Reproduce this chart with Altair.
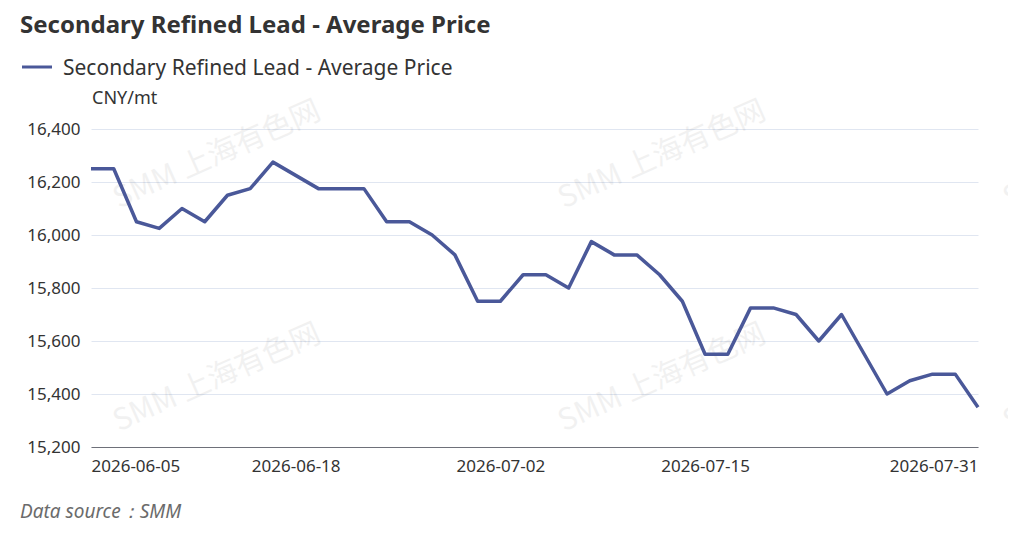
import altair as alt
import pandas as pd

dates = [
    "2026-06-05", "2026-06-08", "2026-06-09", "2026-06-10", "2026-06-11",
    "2026-06-12", "2026-06-15", "2026-06-16", "2026-06-17", "2026-06-18",
    "2026-06-22", "2026-06-23", "2026-06-24", "2026-06-25", "2026-06-26",
    "2026-06-29", "2026-06-30", "2026-07-01", "2026-07-02", "2026-07-03",
    "2026-07-06", "2026-07-07", "2026-07-08", "2026-07-09", "2026-07-10",
    "2026-07-13", "2026-07-14", "2026-07-15", "2026-07-16", "2026-07-17",
    "2026-07-20", "2026-07-21", "2026-07-22", "2026-07-23", "2026-07-24",
    "2026-07-27", "2026-07-28", "2026-07-29", "2026-07-30", "2026-07-31",
]
prices = [
    16250, 16250, 16050, 16025, 16100,
    16050, 16150, 16175, 16275, 16225,
    16175, 16175, 16175, 16050, 16050,
    16000, 15925, 15750, 15750, 15850,
    15850, 15800, 15975, 15925, 15925,
    15850, 15750, 15550, 15550, 15725,
    15725, 15700, 15600, 15700, 15550,
    15400, 15450, 15475, 15475, 15350,
]
tick_dates = ["2026-06-05", "2026-06-18", "2026-07-02", "2026-07-15", "2026-07-31"]
y_ticks = [15200, 15400, 15600, 15800, 16000, 16200, 16400]

series_name = "Secondary Refined Lead - Average Price"
title_text = "Secondary Refined Lead - Average Price"
unit_text = "CNY/mt"
source_text = "Data source：SMM"
watermark_text = "SMM 上海有色网"

LINE_COLOR = "#4a5899"
FONT = "Noto Sans"

df = pd.DataFrame({"date": dates, "price": prices})

W, H = 887, 318

base = alt.Chart(df)

line = base.mark_line(color=LINE_COLOR, strokeWidth=3.5, strokeJoin="round").encode(
    x=alt.X(
        "date:O",
        sort=None,
        scale=alt.Scale(type="point", padding=0),
        axis=alt.Axis(
            values=tick_dates,
            labelAngle=0,
            ticks=False,
            grid=False,
            domainColor="#6E7079",
            domainWidth=1,
            labelFontSize=17,
            labelColor="#333333",
            labelFont=FONT,
            labelPadding=11,
            labelAlign={
                "condition": [
                    {"test": f"datum.value == '{tick_dates[0]}'", "value": "left"},
                    {"test": f"datum.value == '{tick_dates[-1]}'", "value": "right"},
                ],
                "value": "center",
            },
            title=None,
        ),
    ),
    y=alt.Y(
        "price:Q",
        scale=alt.Scale(domain=[15200, 16400], nice=False, zero=False),
        axis=alt.Axis(
            values=y_ticks,
            format=",.0f",
            domain=False,
            ticks=False,
            gridColor="#E0E6F1",
            gridWidth=1,
            labelFontSize=17,
            labelColor="#333333",
            labelFont=FONT,
            labelPadding=11,
            title=None,
        ),
    ),
)

layers = []

# watermarks (behind the line)
wm_positions = [(126, 26), (571, 26), (1016, 26), (126, 249), (571, 249), (1016, 249)]
for (wx, wy) in wm_positions:
    layers.append(
        alt.Chart(pd.DataFrame({"t": [watermark_text]})).mark_text(
            font="Noto Sans CJK SC", fontSize=30, angle=336, align="center",
            baseline="middle", color="#000000", opacity=0.05,
        ).encode(text="t:N", x=alt.value(wx), y=alt.value(wy))
    )

layers.append(line)

# title
layers.append(
    alt.Chart(pd.DataFrame({"t": [title_text]})).mark_text(
        font=FONT, fontSize=24, fontWeight="bold", color="#333333",
        align="left", baseline="alphabetic",
    ).encode(text="t:N", x=alt.value(-71), y=alt.value(-96))
)
# legend symbol
layers.append(
    alt.Chart(pd.DataFrame({"t": [series_name]})).mark_rule(
        color=LINE_COLOR, strokeWidth=3
    ).encode(x=alt.value(-69), x2=alt.value(-39), y=alt.value(-62))
)
# legend text
layers.append(
    alt.Chart(pd.DataFrame({"t": [series_name]})).mark_text(
        font=FONT, fontSize=21, color="#333333", align="left", baseline="alphabetic",
    ).encode(text="t:N", x=alt.value(-28), y=alt.value(-54))
)
# unit label
layers.append(
    alt.Chart(pd.DataFrame({"t": [unit_text]})).mark_text(
        font=FONT, fontSize=18, color="#333333", align="left", baseline="alphabetic",
    ).encode(text="t:N", x=alt.value(1), y=alt.value(-25))
)
# data source
layers.append(
    alt.Chart(pd.DataFrame({"t": [source_text]})).mark_text(
        font=FONT, fontSize=19, fontStyle="italic", color="#6b6b6b",
        align="left", baseline="alphabetic",
    ).encode(text="t:N", x=alt.value(-71), y=alt.value(389))
)

chart = alt.layer(*layers).properties(
    width=W,
    height=H,
    background="white",
    autosize=alt.AutoSizeParams(type="none"),
    padding={"left": 83, "top": 121, "right": 30, "bottom": 80},
).configure_view(strokeWidth=0, stroke="transparent")

chart.save("out.html", embed_options={"renderer": "svg", "actions": False})
